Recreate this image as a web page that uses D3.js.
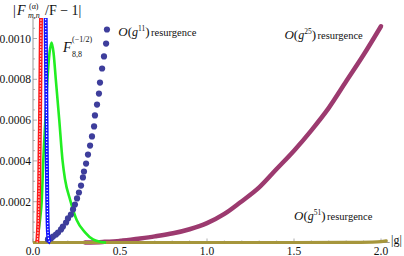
<!DOCTYPE html>
<html><head><meta charset="utf-8">
<script src="https://cdn.jsdelivr.net/npm/d3@7"></script>
<style>body{margin:0;background:#fff}svg{display:block;font-family:"Liberation Serif","Times New Roman",serif}</style>
</head><body>
<script>
// ---- data ----
const xTickVals = [0, 0.5, 1.0, 1.5, 2.0];
const xTickLabels = ["0.0", "0.5", "1.0", "1.5", "2.0"];
const yTickVals = [0.0002, 0.0004, 0.0006, 0.0008, 0.0010];
const yTickLabels = ["0.0002", "0.0004", "0.0006", "0.0008", "0.0010"];

const redG = [0.024, 0.026, 0.0305, 0.0356, 0.0402, 0.0437, 0.0471];
const redV = [0, 0.00002, 0.0001, 0.0003, 0.0006, 0.0009, 0.0012];

const blueG = [0.0718, 0.0776, 0.082, 0.086, 0.090, 0.095, 0.100];
const blueV = [0.0012, 0.0006, 0.0002, 0.00005, 0.000015, 0.000003, 0];

const greenG = [0.020, 0.028, 0.036, 0.044, 0.050, 0.059, 0.071, 0.083, 0.095, 0.107, 0.118, 0.131, 0.151, 0.170, 0.184, 0.213, 0.251, 0.299, 0.345, 0.385, 0.42];
const greenV = [0, 0.00003, 0.00008, 0.00014, 0.0002, 0.0004, 0.0006, 0.0008, 0.00093, 0.00098, 0.00093, 0.0008, 0.0006, 0.0004, 0.00031, 0.00021, 0.00011, 0.00005, 0.000015, 0.000004, 0];

const dotsG = [0.086, 0.103, 0.115, 0.132, 0.144, 0.161, 0.172, 0.190, 0.201, 0.218, 0.230, 0.241, 0.253, 0.264, 0.276, 0.287, 0.293, 0.305, 0.316, 0.328, 0.339, 0.351, 0.356, 0.368, 0.379, 0.385, 0.397, 0.408, 0.420, 0.425];
const dotsV = [0.000015, 0.000020, 0.000029, 0.000039, 0.000049, 0.000064, 0.000078, 0.000098, 0.000118, 0.000137, 0.000162, 0.000186, 0.000216, 0.000245, 0.000279, 0.000319, 0.000348, 0.000387, 0.000431, 0.000475, 0.000520, 0.000569, 0.000623, 0.000676, 0.000730, 0.000784, 0.000853, 0.000912, 0.000975, 0.001044];

const purpleG = [0.30, 0.40, 0.50, 0.615, 0.70, 0.805, 0.90, 1.0, 1.1, 1.19, 1.3, 1.4, 1.5, 1.6, 1.7, 1.8, 1.9, 2.0];
const purpleV = [0, 0.000003, 0.000008, 0.00002, 0.00003, 0.000045, 0.000065, 0.000095, 0.00014, 0.000196, 0.00027, 0.00036, 0.00045, 0.00055, 0.00066, 0.00079, 0.00092, 0.00106];

const oliveG = [0, 0.5, 1.0, 1.5, 1.8, 1.95, 2.0, 2.03];
const oliveV = [0, 0, 0, 0, 0.0000005, 0.000002, 0.000004, 0.000008];

const resLabels = [
  {exp: "11", gx: 0.49, v: 0.00101},
  {exp: "25", gx: 1.445, v: 0.00100},
  {exp: "51", gx: 1.50, v: 0.000112}
];

// ---- chart ----
const W = 404, H = 256;
const svg = d3.select("body").append("svg").attr("width", W).attr("height", H);
const x = d3.scaleLinear().domain([0, 2.05]).range([33, 33 + 174 * 2.05]);
const y = d3.scaleLinear().domain([0, 0.0011]).range([242.5, 242.5 - 224.4]);

const axisCol = "#999";
const txtCol = "#111";

svg.append("defs").append("clipPath").attr("id", "clip")
  .append("rect").attr("x", 33).attr("y", y(0.0011)).attr("width", x(2.05) - 33 + 2).attr("height", 242.5 - y(0.0011) + 4);

// axes lines
svg.append("line").attr("x1", x(0)).attr("x2", x(2.05)).attr("y1", y(0)).attr("y2", y(0)).attr("stroke", axisCol).attr("stroke-width", 1);
svg.append("line").attr("x1", x(0)).attr("x2", x(0)).attr("y1", y(0)).attr("y2", y(0.0011)).attr("stroke", axisCol).attr("stroke-width", 1);

// x ticks
const xMinor = d3.range(0, 21).map(i => i / 10);
svg.selectAll(".xt").data(xMinor).enter().append("line")
  .attr("x1", d => x(d)).attr("x2", d => x(d))
  .attr("y1", y(0)).attr("y2", d => y(0) - ((Math.round(d * 10) % 5 === 0) ? 4 : 2))
  .attr("stroke", axisCol).attr("stroke-width", 0.8);
svg.selectAll(".xl").data(xTickVals).enter().append("text")
  .attr("x", d => x(d)).attr("y", 255).attr("text-anchor", "middle")
  .attr("font-size", 11.5).attr("fill", txtCol)
  .text((d, i) => xTickLabels[i]);

// y ticks
const yMinor = d3.range(1, 23).map(i => i * 0.00005);
svg.selectAll(".yt").data(yMinor).enter().append("line")
  .attr("y1", d => y(d)).attr("y2", d => y(d))
  .attr("x1", x(0)).attr("x2", (d, i) => x(0) + (((i + 1) % 4 === 0) ? 4 : 2))
  .attr("stroke", axisCol).attr("stroke-width", 0.8);
svg.selectAll(".yl").data(yTickVals).enter().append("text")
  .attr("x", 31).attr("y", d => y(d) + 4).attr("text-anchor", "end")
  .attr("font-size", 11.5).attr("fill", txtCol)
  .text((d, i) => yTickLabels[i]);

const plot = svg.append("g").attr("clip-path", "url(#clip)");
const zip = (a, b) => a.map((g, i) => [g, b[i]]);
const line = d3.line().x(d => x(d[0])).y(d => y(d[1])).curve(d3.curveMonotoneX);

plot.append("path").attr("d", line(zip(purpleG, purpleV))).attr("fill", "none")
  .attr("stroke", "#9c3a6f").attr("stroke-width", 4.5).attr("stroke-linecap", "round");
plot.append("path").attr("d", line(zip(oliveG, oliveV))).attr("fill", "none")
  .attr("stroke", "#a6963c").attr("stroke-width", 3.2).attr("stroke-linecap", "round");
plot.append("path").attr("d", line(zip(greenG, greenV))).attr("fill", "none")
  .attr("stroke", "#22ee22").attr("stroke-width", 2.6);
plot.selectAll(".dot").data(zip(dotsG, dotsV)).enter().append("circle")
  .attr("cx", d => x(d[0])).attr("cy", d => y(d[1])).attr("r", 3.1).attr("fill", "#3e3e9c");
[[blueG, blueV, "#1010ff"], [redG, redV, "#ff1a1a"]].forEach(([g, v, c]) => {
  const dd = line(zip(g, v));
  plot.append("path").attr("d", dd).attr("fill", "none").attr("stroke", c).attr("stroke-width", 4);
  plot.append("path").attr("d", dd).attr("fill", "none").attr("stroke", "#fff")
    .attr("stroke-width", 1.2).attr("stroke-dasharray", "1.3,1.7");
});

// y-axis label |F^(α)_{m,n}/F − 1|
const yl = svg.append("g").attr("fill", txtCol);
yl.append("text").attr("x", 13).attr("y", 15).attr("font-size", 14).text("|");
yl.append("text").attr("x", 17).attr("y", 15).attr("font-size", 14).attr("font-style", "italic").text("F");
yl.append("text").attr("x", 29).attr("y", 9).attr("font-size", 8).text("(α)");
yl.append("text").attr("x", 28).attr("y", 18).attr("font-size", 8).attr("font-style", "italic").text("m,n");
yl.append("text").attr("x", 45).attr("y", 15).attr("font-size", 14).text("/F − 1|");

// F_{8,8}^{(-1/2)}
const fl = svg.append("g").attr("fill", txtCol);
fl.append("text").attr("x", 63).attr("y", 52).attr("font-size", 14).attr("font-style", "italic").text("F");
fl.append("text").attr("x", 72).attr("y", 42).attr("font-size", 8).text("(−1/2)");
fl.append("text").attr("x", 72).attr("y", 57).attr("font-size", 8).text("8,8");

// resurgence labels
resLabels.forEach(L => {
  const t = svg.append("text").attr("x", x(L.gx)).attr("y", y(L.v))
    .attr("fill", txtCol).attr("font-size", 12);
  t.append("tspan").attr("font-style", "italic").attr("font-size", 13).text("O");
  t.append("tspan").attr("font-size", 13).text("(");
  t.append("tspan").attr("font-style", "italic").text("g");
  t.append("tspan").attr("font-size", 7.5).attr("dy", -5).text(L.exp);
  t.append("tspan").attr("font-size", 13).attr("dy", 5).text(")");
  t.append("tspan").attr("font-size", 10.5).attr("dx", 1.5).text("resurgence");
});

// |g|
svg.append("text").attr("x", 391).attr("y", 244).attr("font-size", 12).attr("fill", txtCol).text("|g|");
</script>
</body></html>
